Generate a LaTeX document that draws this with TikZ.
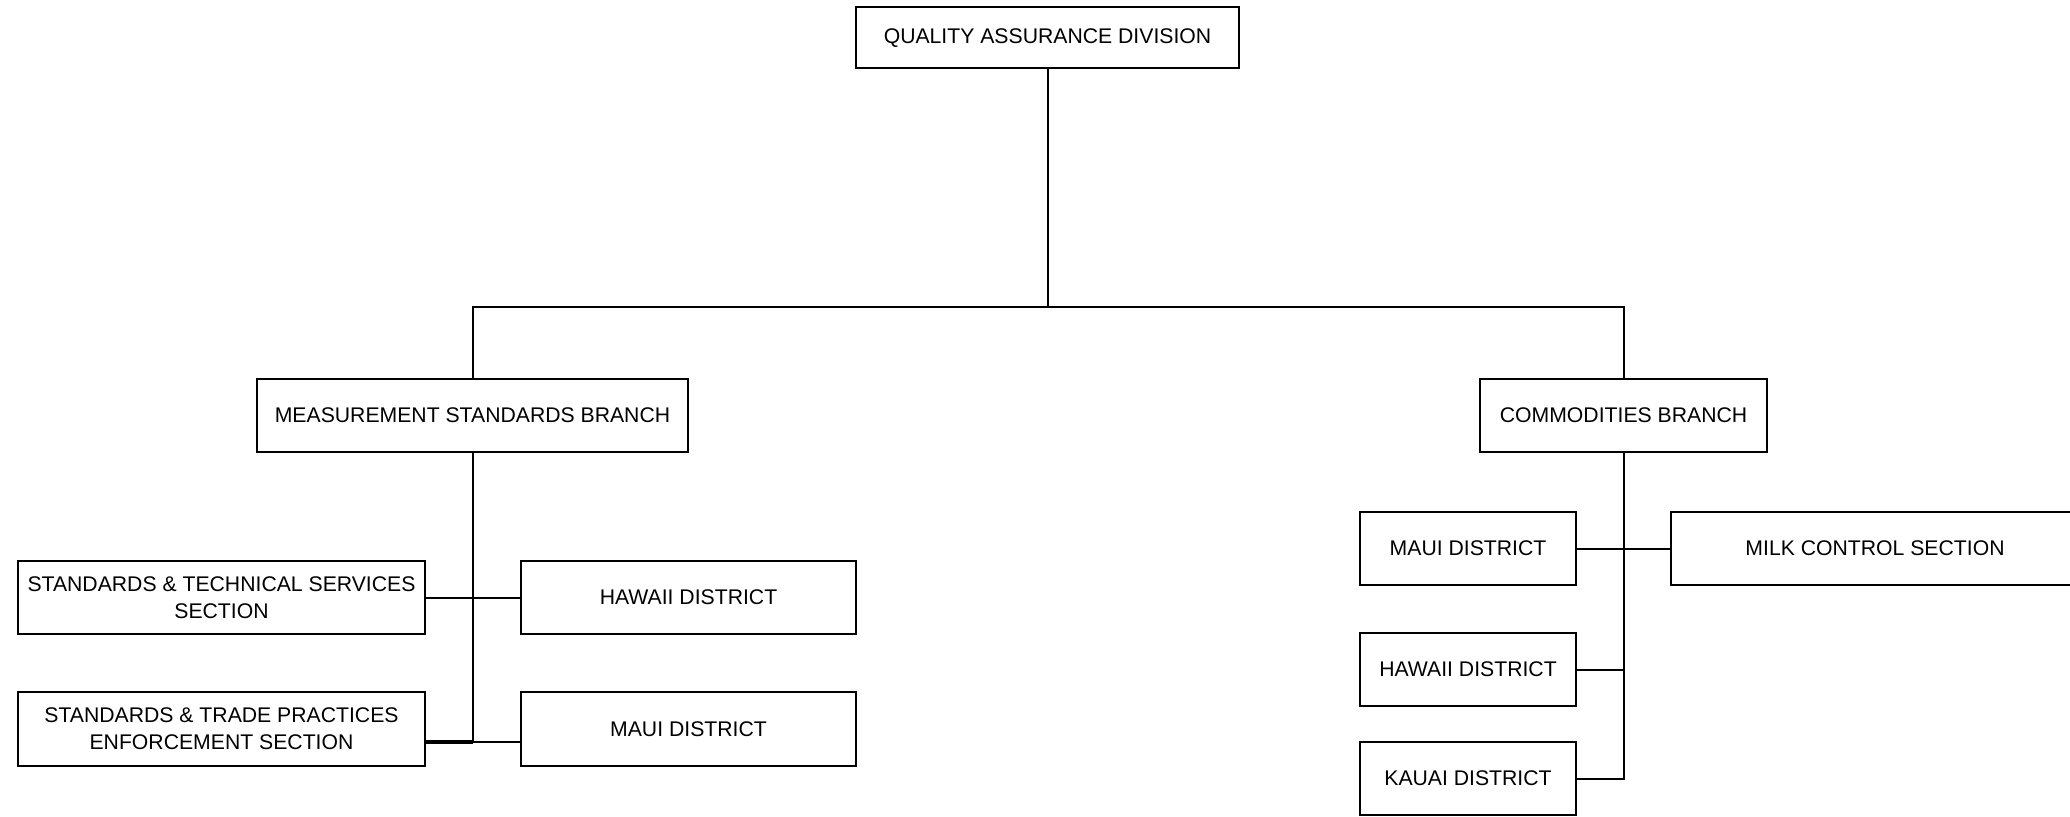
\documentclass[tikz,border=0pt]{standalone}
\usepackage{fontspec}
\setmainfont{Liberation Sans}
\begin{document}
\begin{tikzpicture}[x=0.5pt,y=-0.5pt,
  box/.style={draw, line width=1pt, inner sep=0pt, align=center,
    font=\fontsize{10.6}{13.5}\selectfont, minimum height=36.5pt},
  conn/.style={line width=1pt}]
\useasboundingbox (0,0) rectangle (2070,817);
\node[box, minimum width=191.5pt, minimum height=30.5pt] (qad) at (1047.5,38) {QUALITY ASSURANCE DIVISION};
\node[box, minimum width=215.5pt] (msb) at (472.5,415.5) {MEASUREMENT STANDARDS BRANCH};
\node[box, minimum width=143.5pt] (cb) at (1623.5,415.5) {COMMODITIES BRANCH};
\node[box, minimum width=203.5pt] (sts) at (221.5,597.5) {STANDARDS \& TECHNICAL SERVICES\\SECTION};
\node[box, minimum width=167.5pt] (hdl) at (688.5,597.5) {HAWAII DISTRICT};
\node[box, minimum width=203.5pt, minimum height=37pt] (stp) at (221.5,729) {STANDARDS \& TRADE PRACTICES\\ENFORCEMENT SECTION};
\node[box, minimum width=167.5pt, minimum height=37pt] (mdl) at (688.5,729) {MAUI DISTRICT};
\node[box, minimum width=108pt] (mdr) at (1468,548.5) {MAUI DISTRICT};
\node[box, minimum width=204pt] (milk) at (1875,548.5) {MILK CONTROL SECTION};
\node[box, minimum width=108pt] (hdr) at (1468,669.5) {HAWAII DISTRICT};
\node[box, minimum width=108pt] (kdr) at (1468,778.5) {KAUAI DISTRICT};
\coordinate (bus) at (1047.5,307);
\coordinate (lj) at (472.5,742);
\draw[conn] (qad.south) -- (bus);
\draw[conn] (msb.north) |- (bus) -| (cb.north);
\draw[conn] (msb.south) -- (lj);
\draw[conn] (sts.east) -- (hdl.west);
\draw[line width=1.6pt] (stp.east |- lj) -- (lj);
\draw[conn] (lj) -- (mdl.west |- lj);
\draw[conn] (cb.south) |- (kdr.east);
\draw[conn] (mdr.east) -- (milk.west);
\draw[conn] (hdr.east) -- (hdr.east -| cb.south);
\end{tikzpicture}
\end{document}
